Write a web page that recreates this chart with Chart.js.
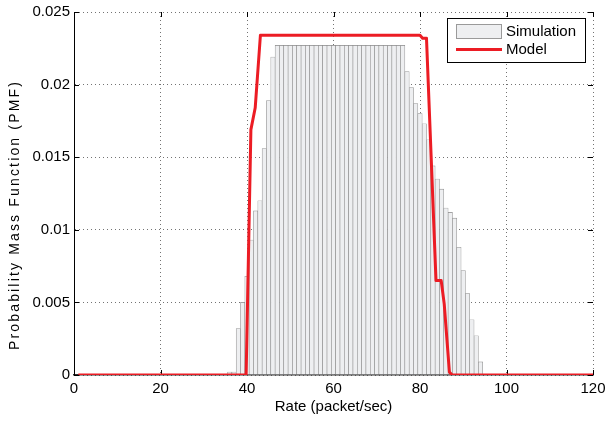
<!DOCTYPE html>
<html>
<head>
<meta charset="utf-8">
<script src="https://cdn.jsdelivr.net/npm/chart.js@4.4.1/dist/chart.umd.min.js"></script>
<style>
  html, body { margin: 0; padding: 0; background: #ffffff; }
  #wrap { width: 605px; height: 421px; position: relative; }
</style>
</head>
<body>
<div id="wrap"><canvas id="c" width="605" height="421"></canvas></div>
<script>
// ---- data ----
const simRates = [36,37,38,39,40,41,42,43,44,45,46,
  47,48,49,50,51,52,53,54,55,56,57,58,59,60,61,62,63,64,65,66,67,68,69,70,71,72,73,74,75,76,
  77,78,79,80,81,82,83,84,85,86,87,88,89,90,91,92,93,94];
const simPMF = [0.0002,0.0002,0.0032,0.0050,0.0068,0.0093,0.0113,0.0120,0.0156,0.0189,0.0219,
  0.0227,0.0227,0.0227,0.0227,0.0227,0.0227,0.0227,0.0227,0.0227,0.0227,
  0.0227,0.0227,0.0227,0.0227,0.0227,0.0227,0.0227,0.0227,0.0227,0.0227,
  0.0227,0.0227,0.0227,0.0227,0.0227,0.0227,0.0227,0.0227,0.0227,0.0227,
  0.0209,0.0198,0.0187,0.0180,0.0173,0.0162,0.0144,0.0135,0.0128,0.0115,0.0112,0.0108,
  0.0088,0.0072,0.0056,0.0038,0.0027,0.0009];
const modelRates = [1, 39.8, 40.9, 41.9, 43.1, 80, 80.6, 81.5, 83.7, 84.9, 85.6, 86.8, 87.4, 120];
const modelPMF   = [0, 0, 0.0169, 0.0184, 0.0234, 0.0234, 0.0232, 0.0232, 0.0065, 0.0065, 0.0049, 0.0002, 0, 0];
const xTickValues = [0, 20, 40, 60, 80, 100, 120];
const xTickLabels = ['0', '20', '40', '60', '80', '100', '120'];
const yTickValues = [0, 0.005, 0.01, 0.015, 0.02, 0.025];
const yTickLabels = ['0', '0.005', '0.01', '0.015', '0.02', '0.025'];
const seriesNames = ['Simulation', 'Model'];
const xTitle = 'Rate (packet/sec)';
const yTitle = 'Probability Mass Function (PMF)';

// ---- styles ----
const RED = '#ec1c24';
const BAR_FILL = '#eeeff1';
const BAR_EDGE = '#8a8a8a';
const FONT = '"Liberation Sans", Arial, Helvetica, sans-serif';
const GRID = 'rgba(0,0,0,0.55)';

const decorPlugin = {
  id: 'decor',
  beforeDatasetsDraw(chart) {
    // inward tick marks on all four sides
    const {ctx, chartArea: a, scales: {x, y}} = chart;
    ctx.save();
    ctx.strokeStyle = '#000';
    ctx.lineWidth = 1;
    ctx.beginPath();
    xTickValues.forEach(v => {
      const px = Math.round(x.getPixelForValue(v)) + 0.5;
      ctx.moveTo(px, a.bottom); ctx.lineTo(px, a.bottom - 5);
      ctx.moveTo(px, a.top); ctx.lineTo(px, a.top + 5);
    });
    yTickValues.forEach(v => {
      const py = Math.round(y.getPixelForValue(v)) + 0.5;
      ctx.moveTo(a.left, py); ctx.lineTo(a.left + 5, py);
      ctx.moveTo(a.right, py); ctx.lineTo(a.right - 5, py);
    });
    ctx.stroke();
    ctx.restore();
  },
  afterDraw(chart) {
    const {ctx, chartArea: a} = chart;
    // y-axis title (stretched along its length like the reference)
    ctx.save();
    ctx.fillStyle = '#000';
    ctx.font = '14px ' + FONT;
    const target = 268;
    const natural = ctx.measureText(yTitle).width;
    let useSpacing = ('letterSpacing' in ctx);
    const gaps = yTitle.length - 1;
    ctx.translate(15, 216);
    ctx.rotate(-Math.PI / 2);
    ctx.textAlign = 'center';
    ctx.textBaseline = 'middle';
    if (useSpacing) {
      ctx.letterSpacing = ((target - natural) / gaps).toFixed(2) + 'px';
      const w = ctx.measureText(yTitle).width;
      ctx.fillText(yTitle, (w - target) / 2, 0);
    } else {
      ctx.scale(target / natural, 1);
      ctx.fillText(yTitle, 0, 0);
    }
    ctx.restore();

    // legend box
    const bx = a.right - 146, by = a.top + 6, bw = 138, bh = 44;
    ctx.save();
    ctx.fillStyle = '#fff';
    ctx.fillRect(bx, by, bw, bh);
    ctx.strokeStyle = '#000';
    ctx.lineWidth = 1;
    ctx.strokeRect(Math.round(bx) + 0.5, Math.round(by) + 0.5, bw, bh);
    ctx.fillStyle = BAR_FILL;
    ctx.fillRect(bx + 9, by + 6, 45, 14);
    ctx.strokeStyle = '#9a9a9a';
    ctx.strokeRect(Math.round(bx + 9) + 0.5, Math.round(by + 6) + 0.5, 45, 14);
    ctx.strokeStyle = RED;
    ctx.lineWidth = 3;
    ctx.beginPath();
    ctx.moveTo(bx + 9, by + 31.5); ctx.lineTo(bx + 55, by + 31.5);
    ctx.stroke();
    ctx.fillStyle = '#000';
    ctx.font = '15px ' + FONT;
    ctx.textAlign = 'left';
    ctx.textBaseline = 'middle';
    ctx.fillText(seriesNames[0], bx + 59, by + 13.5);
    ctx.fillText(seriesNames[1], bx + 59, by + 31.5);
    ctx.restore();
  }
};

new Chart(document.getElementById('c'), {
  type: 'bar',
  data: {
    datasets: [
      {
        type: 'line',
        label: seriesNames[1],
        data: modelRates.map((r, i) => ({x: r, y: modelPMF[i]})),
        borderColor: RED,
        backgroundColor: RED,
        borderWidth: 3,
        pointRadius: 0,
        tension: 0,
        borderJoinStyle: 'round',
        borderCapStyle: 'butt',
        fill: false,
        order: 0
      },
      {
        type: 'bar',
        label: seriesNames[0],
        data: simRates.map((r, i) => ({x: r, y: simPMF[i]})),
        backgroundColor: BAR_FILL,
        borderColor: BAR_EDGE,
        borderWidth: 0.6,
        borderSkipped: false,
        barPercentage: 1,
        categoryPercentage: 1,
        order: 1
      }
    ]
  },
  options: {
    responsive: false,
    animation: false,
    devicePixelRatio: 1,
    layout: {padding: {left: 0, top: 12, right: 12, bottom: 0}},
    plugins: {legend: {display: false}, tooltip: {enabled: false}},
    scales: {
      x: {
        type: 'linear',
        min: 0, max: 120,
        offset: false,
        afterBuildTicks: s => { s.ticks = xTickValues.map(v => ({value: v})); },
        afterFit: s => { s.height = 46; s.paddingLeft = 0; s.paddingRight = 0; },
        ticks: {
          color: '#000',
          font: {family: FONT, size: 15},
          padding: 5,
          maxRotation: 0,
          autoSkip: false,
          callback: (v, i) => xTickLabels[i]
        },
        grid: {color: GRID, lineWidth: 1, drawTicks: false, offset: false},
        border: {display: true, color: '#333', width: 1.5, dash: [1, 3]},
        title: {display: true, text: xTitle, color: '#000', font: {family: FONT, size: 15}, padding: {top: 0, bottom: 5}}
      },
      y: {
        type: 'linear',
        min: 0, max: 0.025,
        afterBuildTicks: s => { s.ticks = yTickValues.map(v => ({value: v})); },
        afterFit: s => { s.width = 74; s.paddingTop = 0; s.paddingBottom = 0; },
        ticks: {
          color: '#000',
          font: {family: FONT, size: 15},
          padding: 4,
          callback: (v, i) => yTickLabels[i]
        },
        grid: {color: GRID, lineWidth: 1, drawTicks: false},
        border: {display: true, color: '#000', width: 1, dash: [1, 3]},
        title: {display: false}
      }
    }
  },
  plugins: [decorPlugin]
});
</script>
</body>
</html>
